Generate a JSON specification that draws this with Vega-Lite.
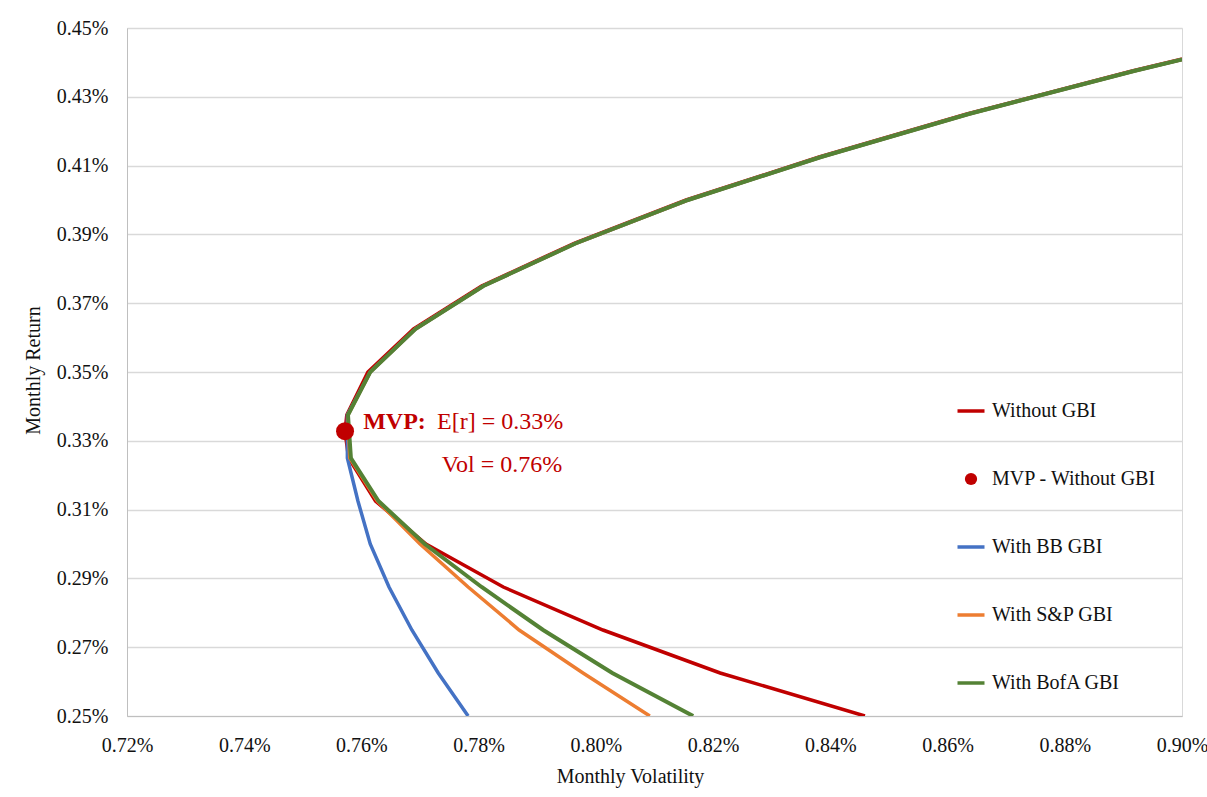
{
  "$schema": "https://vega.github.io/schema/vega-lite/v6.json",
  "width": 1055,
  "height": 688,
  "autosize": "none",
  "padding": {"left": 127, "top": 28, "right": 25, "bottom": 81},
  "background": "#ffffff",
  "config": {
    "font": "Liberation Serif",
    "view": {"stroke": "#d9d9d9", "strokeWidth": 1},
    "text": {"font": "Liberation Serif"},
    "axis": {"labelFont": "Liberation Serif", "titleFont": "Liberation Serif", "labelColor": "#111111", "titleColor": "#111111", "titleFontWeight": "normal"},
    "legend": {"labelFont": "Liberation Serif"}
  },
  "datasets": {
    "curves": [
      {"series": "Without GBI", "vol": 0.8459, "ret": 0.25},
      {"series": "Without GBI", "vol": 0.8212, "ret": 0.2625},
      {"series": "Without GBI", "vol": 0.8012, "ret": 0.275},
      {"series": "Without GBI", "vol": 0.7842, "ret": 0.2875},
      {"series": "Without GBI", "vol": 0.7710, "ret": 0.30},
      {"series": "Without GBI", "vol": 0.7624, "ret": 0.3125},
      {"series": "Without GBI", "vol": 0.7578, "ret": 0.325},
      {"series": "Without GBI", "vol": 0.7572, "ret": 0.3328},
      {"series": "Without GBI", "vol": 0.7575, "ret": 0.3375},
      {"series": "Without GBI", "vol": 0.7611, "ret": 0.35},
      {"series": "Without GBI", "vol": 0.7689, "ret": 0.3625},
      {"series": "Without GBI", "vol": 0.7805, "ret": 0.375},
      {"series": "Without GBI", "vol": 0.7964, "ret": 0.3875},
      {"series": "Without GBI", "vol": 0.8154, "ret": 0.40},
      {"series": "Without GBI", "vol": 0.8381, "ret": 0.4125},
      {"series": "Without GBI", "vol": 0.8633, "ret": 0.425},
      {"series": "Without GBI", "vol": 0.8915, "ret": 0.4375},
      {"series": "Without GBI", "vol": 0.9223, "ret": 0.45},

      {"series": "With BB GBI", "vol": 0.7782, "ret": 0.25},
      {"series": "With BB GBI", "vol": 0.7731, "ret": 0.2625},
      {"series": "With BB GBI", "vol": 0.7686, "ret": 0.275},
      {"series": "With BB GBI", "vol": 0.7647, "ret": 0.2875},
      {"series": "With BB GBI", "vol": 0.7615, "ret": 0.30},
      {"series": "With BB GBI", "vol": 0.7594, "ret": 0.3125},
      {"series": "With BB GBI", "vol": 0.7576, "ret": 0.325},
      {"series": "With BB GBI", "vol": 0.7576, "ret": 0.3375},
      {"series": "With BB GBI", "vol": 0.7615, "ret": 0.35},
      {"series": "With BB GBI", "vol": 0.7692, "ret": 0.3625},
      {"series": "With BB GBI", "vol": 0.7808, "ret": 0.375},
      {"series": "With BB GBI", "vol": 0.7967, "ret": 0.3875},
      {"series": "With BB GBI", "vol": 0.8157, "ret": 0.40},
      {"series": "With BB GBI", "vol": 0.8384, "ret": 0.4125},
      {"series": "With BB GBI", "vol": 0.8636, "ret": 0.425},
      {"series": "With BB GBI", "vol": 0.8918, "ret": 0.4375},
      {"series": "With BB GBI", "vol": 0.9226, "ret": 0.45},

      {"series": "With S&P GBI", "vol": 0.8092, "ret": 0.25},
      {"series": "With S&P GBI", "vol": 0.7978, "ret": 0.2625},
      {"series": "With S&P GBI", "vol": 0.7869, "ret": 0.275},
      {"series": "With S&P GBI", "vol": 0.7782, "ret": 0.2875},
      {"series": "With S&P GBI", "vol": 0.7700, "ret": 0.30},
      {"series": "With S&P GBI", "vol": 0.7627, "ret": 0.3125},
      {"series": "With S&P GBI", "vol": 0.7580, "ret": 0.325},
      {"series": "With S&P GBI", "vol": 0.7577, "ret": 0.3375},
      {"series": "With S&P GBI", "vol": 0.7615, "ret": 0.35},
      {"series": "With S&P GBI", "vol": 0.7692, "ret": 0.3625},
      {"series": "With S&P GBI", "vol": 0.7808, "ret": 0.375},
      {"series": "With S&P GBI", "vol": 0.7967, "ret": 0.3875},
      {"series": "With S&P GBI", "vol": 0.8157, "ret": 0.40},
      {"series": "With S&P GBI", "vol": 0.8384, "ret": 0.4125},
      {"series": "With S&P GBI", "vol": 0.8636, "ret": 0.425},
      {"series": "With S&P GBI", "vol": 0.8918, "ret": 0.4375},
      {"series": "With S&P GBI", "vol": 0.9226, "ret": 0.45},

      {"series": "With BofA GBI", "vol": 0.8166, "ret": 0.25},
      {"series": "With BofA GBI", "vol": 0.8028, "ret": 0.2625},
      {"series": "With BofA GBI", "vol": 0.7910, "ret": 0.275},
      {"series": "With BofA GBI", "vol": 0.7805, "ret": 0.2875},
      {"series": "With BofA GBI", "vol": 0.7708, "ret": 0.30},
      {"series": "With BofA GBI", "vol": 0.7629, "ret": 0.3125},
      {"series": "With BofA GBI", "vol": 0.7582, "ret": 0.325},
      {"series": "With BofA GBI", "vol": 0.7577, "ret": 0.3375},
      {"series": "With BofA GBI", "vol": 0.7615, "ret": 0.35},
      {"series": "With BofA GBI", "vol": 0.7692, "ret": 0.3625},
      {"series": "With BofA GBI", "vol": 0.7808, "ret": 0.375},
      {"series": "With BofA GBI", "vol": 0.7967, "ret": 0.3875},
      {"series": "With BofA GBI", "vol": 0.8157, "ret": 0.40},
      {"series": "With BofA GBI", "vol": 0.8384, "ret": 0.4125},
      {"series": "With BofA GBI", "vol": 0.8636, "ret": 0.425},
      {"series": "With BofA GBI", "vol": 0.8918, "ret": 0.4375},
      {"series": "With BofA GBI", "vol": 0.9226, "ret": 0.45}
    ],
    "mvp": [
      {"series": "MVP - Without GBI", "vol": 0.7572, "ret": 0.3328}
    ]
  },
  "layer": [
    {
      "encoding": {
        "x": {
          "field": "vol", "type": "quantitative",
          "scale": {"domain": [0.72, 0.90], "nice": false, "zero": false},
          "axis": {
            "title": "Monthly Volatility",
            "values": [0.72, 0.74, 0.76, 0.78, 0.80, 0.82, 0.84, 0.86, 0.88, 0.90],
            "labelExpr": "format(datum.value, '.2f') + '%'",
            "labelFont": "Liberation Serif", "titleFont": "Liberation Serif",
            "labelFontSize": 20, "labelPadding": 19, "ticks": false, "grid": false,
            "domainColor": "#bfbfbf", "domainWidth": 1,
            "titleFontSize": 20, "titleX": 503, "titleY": 66, "titleBaseline": "alphabetic",
            "labelFlush": false, "labelOverlap": false
          }
        },
        "y": {
          "field": "ret", "type": "quantitative",
          "scale": {"domain": [0.25, 0.45], "nice": false, "zero": false},
          "axis": {
            "title": "Monthly Return",
            "values": [0.25, 0.27, 0.29, 0.31, 0.33, 0.35, 0.37, 0.39, 0.41, 0.43, 0.45],
            "labelExpr": "format(datum.value, '.2f') + '%'",
            "labelFont": "Liberation Serif", "titleFont": "Liberation Serif",
            "labelFontSize": 20, "labelPadding": 19, "ticks": false,
            "grid": true, "gridColor": "#d9d9d9", "gridWidth": 1.5,
            "domainColor": "#bfbfbf", "domainWidth": 1,
            "titleFontSize": 20, "titleX": -88, "titleY": 342, "titleAngle": -90,
            "titleBaseline": "alphabetic", "titleAlign": "center",
            "labelFlush": false, "labelOverlap": false
          }
        },
        "color": {
          "field": "series", "type": "nominal",
          "scale": {
            "domain": ["Without GBI", "MVP - Without GBI", "With BB GBI", "With S&P GBI", "With BofA GBI"],
            "range": ["#c00000", "#c00000", "#4472c4", "#ed7d31", "#548235"]
          },
          "legend": {
            "title": null,
            "orient": "none",
            "legendX": 834,
            "legendY": 373,
            "direction": "vertical",
            "symbolType": "stroke",
            "symbolSize": 729,
            "symbolStrokeWidth": 3.5,
            "labelFont": "Liberation Serif",
            "labelFontSize": 20,
            "labelColor": "#111111",
            "labelOffset": 11,
            "labelLimit": 400,
            "rowPadding": 48,
            "padding": 0,
            "encode": {
              "symbols": {
                "update": {
                  "shape": {"signal": "datum.value === 'MVP - Without GBI' ? 'circle' : 'stroke'"},
                  "size": {"signal": "datum.value === 'MVP - Without GBI' ? 150 : 729"},
                  "fill": {"signal": "datum.value === 'MVP - Without GBI' ? '#c00000' : 'transparent'"},
                  "strokeWidth": {"signal": "datum.value === 'MVP - Without GBI' ? 0 : 3.5"}
                }
              }
            }
          }
        },
        "order": {"field": "ret", "type": "quantitative"}
      },
      "layer": [
        {
          "data": {"name": "curves"},
          "transform": [{"filter": "datum.series === 'Without GBI'"}],
          "mark": {"type": "line", "strokeWidth": 3.5, "clip": true}
        },
        {
          "data": {"name": "curves"},
          "transform": [{"filter": "datum.series === 'With BB GBI'"}],
          "mark": {"type": "line", "strokeWidth": 3.5, "clip": true}
        },
        {
          "data": {"name": "curves"},
          "transform": [{"filter": "datum.series === 'With S&P GBI'"}],
          "mark": {"type": "line", "strokeWidth": 3.5, "clip": true}
        },
        {
          "data": {"name": "curves"},
          "transform": [{"filter": "datum.series === 'With BofA GBI'"}],
          "mark": {"type": "line", "strokeWidth": 4, "clip": true}
        },
        {
          "data": {"name": "mvp"},
          "mark": {"type": "point", "filled": true, "size": 324, "opacity": 1, "shape": "circle"}
        }
      ]
    },
    {
      "data": {"values": [{"label": "MVP:"}]},
      "mark": {"type": "text", "font": "Liberation Serif", "fontSize": 24, "fontWeight": "bold", "color": "#c00000", "align": "left", "baseline": "alphabetic"},
      "encoding": {"x": {"datum": 0.7603, "type": "quantitative"}, "y": {"datum": 0.3333, "type": "quantitative"}, "text": {"field": "label"}}
    },
    {
      "data": {"values": [{"label": "E[r] = 0.33%"}]},
      "mark": {"type": "text", "font": "Liberation Serif", "fontSize": 24, "color": "#c00000", "align": "left", "baseline": "alphabetic"},
      "encoding": {"x": {"datum": 0.7729, "type": "quantitative"}, "y": {"datum": 0.3333, "type": "quantitative"}, "text": {"field": "label"}}
    },
    {
      "data": {"values": [{"label": "Vol = 0.76%"}]},
      "mark": {"type": "text", "font": "Liberation Serif", "fontSize": 24, "color": "#c00000", "align": "left", "baseline": "alphabetic"},
      "encoding": {"x": {"datum": 0.7737, "type": "quantitative"}, "y": {"datum": 0.3210, "type": "quantitative"}, "text": {"field": "label"}}
    }
  ]
}
